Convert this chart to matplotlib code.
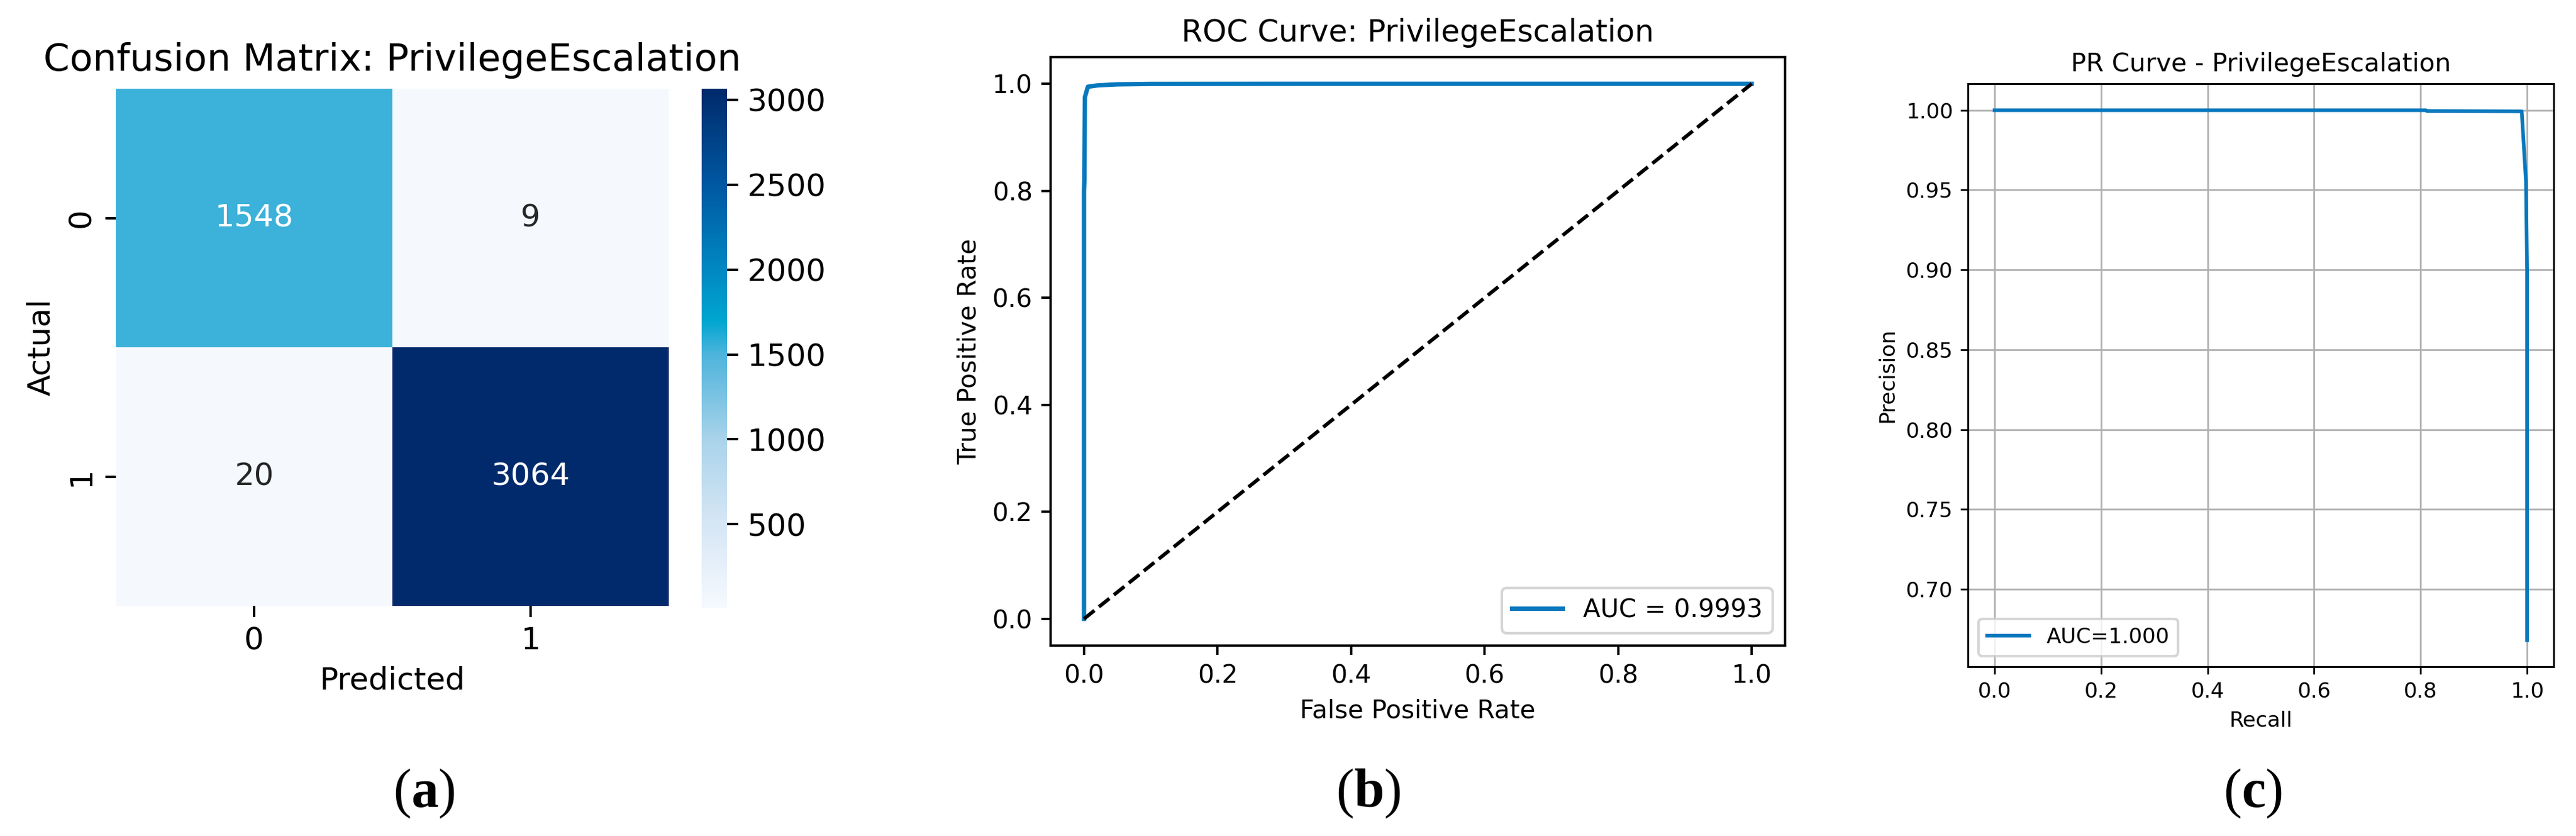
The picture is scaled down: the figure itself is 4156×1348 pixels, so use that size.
import numpy as np
import matplotlib
matplotlib.use("Agg")
import matplotlib.pyplot as plt
from matplotlib.colors import LinearSegmentedColormap
import seaborn as sns

plt.rcParams['font.family'] = ['DejaVu Sans']
plt.rcParams['mathtext.fontset'] = 'custom'
plt.rcParams['mathtext.bf'] = 'Liberation Serif:bold'
plt.rcParams['mathtext.rm'] = 'Liberation Serif'

# data
class_labels = ['0', '1']
cm_values = np.array([[1548, 9],
                      [20, 3064]])

roc_fpr = [0.0, 0.0, 0.0006, 0.0013, 0.0058, 0.02, 0.05, 0.10, 0.30, 1.0]
roc_tpr = [0.0, 0.80, 0.82, 0.975, 0.9945, 0.997, 0.999, 0.9998, 1.0, 1.0]
roc_label = "AUC = 0.9993"

pr_recall = [0.0, 0.81, 0.812, 0.99, 0.998, 1.0, 1.0]
pr_precision = [1.0, 1.0, 0.9995, 0.9993, 0.955, 0.90, 0.668]
pr_label = "AUC=1.000"

line_color = '#0878BD'

# colormap as it looks in the picture (Blues with a cyan middle)
cmap = LinearSegmentedColormap.from_list('cm_blues', [
    (0.0, '#f5f9fe'), (0.161, '#d6e6f5'), (0.324, '#a9d3ea'),
    (0.488, '#4db4dc'), (0.553, '#00a6d0'), (0.652, '#0088c2'),
    (0.815, '#0058a2'), (1.0, '#002a6b')])

W, H = 4156, 1348
fig = plt.figure(figsize=(W / 300, H / 300), dpi=300)

def box(x0, x1, y0, y1):
    return [x0 / W, 1 - y1 / H, (x1 - x0) / W, (y1 - y0) / H]

# (a) confusion matrix
ax_cm = fig.add_axes(box(187, 1079, 143, 977))
ax_cb = fig.add_axes(box(1132, 1173, 143, 980))
sns.heatmap(cm_values, annot=True, fmt='d', cmap=cmap, ax=ax_cm, cbar_ax=ax_cb,
            xticklabels=class_labels, yticklabels=class_labels,
            annot_kws={'size': 12})
ax_cm.set_title("Confusion Matrix: PrivilegeEscalation", fontsize=14.6, pad=7)
ax_cm.set_xlabel("Predicted", fontsize=12)
ax_cm.set_ylabel("Actual", fontsize=12)
ax_cm.tick_params(labelsize=12, length=4.2, width=0.96)
plt.setp(ax_cm.get_yticklabels(), rotation=90, va='center')
ax_cb.tick_params(labelsize=12, length=4.2, width=0.96)

# (b) ROC
ax_roc = fig.add_axes(box(1695, 2880, 92, 1041))
ax_roc.plot(roc_fpr, roc_tpr, color=line_color, lw=1.7, label=roc_label)
ax_roc.plot([0, 1], [0, 1], 'k--', lw=1.4)
ax_roc.set_title("ROC Curve: PrivilegeEscalation", fontsize=11.8)
ax_roc.set_xlabel("False Positive Rate", fontsize=9.8)
ax_roc.set_ylabel("True Positive Rate", fontsize=9.8)
ax_roc.tick_params(labelsize=9.8, length=3.5, width=0.9)
for s in ax_roc.spines.values():
    s.set_linewidth(0.9)
ax_roc.legend(loc='lower right', fontsize=9.8)

# (c) PR
sc = 0.82
ax_pr = fig.add_axes(box(3175, 4120, 135, 1075))
ax_pr.plot(pr_recall, pr_precision, color=line_color, lw=1.4, label=pr_label)
ax_pr.set_title("PR Curve - PrivilegeEscalation", fontsize=10 * sc * 1.2, pad=6 * sc)
ax_pr.set_xlabel("Recall", fontsize=10 * sc, labelpad=4 * sc)
ax_pr.set_ylabel("Precision", fontsize=10 * sc, labelpad=4 * sc)
ax_pr.tick_params(labelsize=10 * sc, length=3.5 * sc, width=0.8 * sc, pad=3.5 * sc)
ax_pr.grid(True, color='#b0b0b0', lw=0.8 * sc)
for s in ax_pr.spines.values():
    s.set_linewidth(0.9 * sc)
ax_pr.legend(loc='lower left', fontsize=10 * sc)

# panel letters
for letter, xc in zip(['a', 'b', 'c'], [684, 2208, 3635]):
    fig.text(xc / W, 1 - 1280 / H, r"($\mathbf{%s}$)" % letter,
             family='Liberation Serif', fontsize=21, ha='center', va='center')

fig.savefig("out.png", dpi=300)
